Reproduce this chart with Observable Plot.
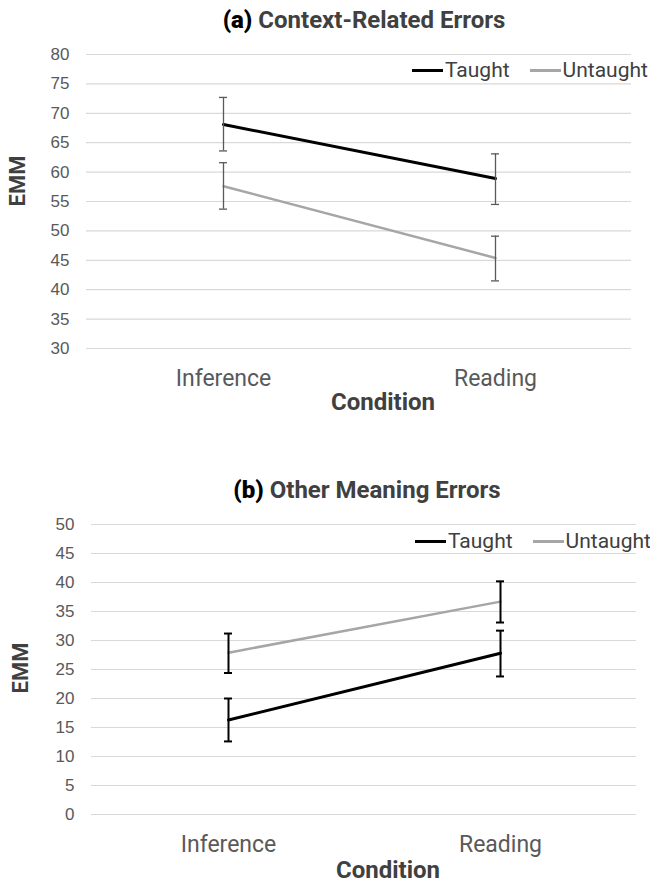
<!DOCTYPE html>
<html>
<head>
<meta charset="utf-8">
<script src="https://cdn.jsdelivr.net/npm/d3@7"></script>
<script src="https://cdn.jsdelivr.net/npm/@observablehq/plot@0.6"></script>
<style>
  html, body { margin: 0; padding: 0; background: #fff; }
  #root { position: relative; width: 650px; height: 883px; background: #fff; overflow: hidden; font-family: Roboto, "Liberation Sans", sans-serif; }
  .abs { position: absolute; white-space: nowrap; line-height: 1; }
  .ctr { transform: translate(-50%, -50%); }
  .title { font-size: 24px; font-weight: bold; color: #404040; }
  .title b { color: #000; }
  .axtitle { font-size: 24px; font-weight: bold; color: #404040; }
  .ytitle { font-size: 22px; font-weight: bold; color: #404040; transform: translate(-50%, -50%) rotate(-90deg); }
  .legend { font-size: 21px; color: #404040; display: flex; align-items: center; }
  .sw { display: inline-block; width: 31px; height: 3px; margin-right: 2px; }
  .panel { position: absolute; left: 0; }
</style>
</head>
<body>
<div id="root"></div>
<script>
// ---------- data ----------
const conditions = ["Inference", "Reading"];
const groups = ["Taught", "Untaught"];

// (a) Context-Related Errors
const aTaught      = [68.1, 58.9];
const aTaughtLo    = [63.6, 54.5];
const aTaughtHi    = [72.7, 63.1];
const aUntaught    = [57.6, 45.4];
const aUntaughtLo  = [53.7, 41.5];
const aUntaughtHi  = [61.6, 49.1];
const aTicks = [30, 35, 40, 45, 50, 55, 60, 65, 70, 75, 80];

// (b) Other Meaning Errors
const bTaught      = [16.3, 27.8];
const bTaughtLo    = [12.6, 23.8];
const bTaughtHi    = [20.0, 31.7];
const bUntaught    = [27.9, 36.7];
const bUntaughtLo  = [24.4, 33.1];
const bUntaughtHi  = [31.2, 40.2];
const bTicks = [0, 5, 10, 15, 20, 25, 30, 35, 40, 45, 50];

const seriesColors = ["#000000", "#a6a6a6"];

function rows(taught, tLo, tHi, untaught, uLo, uHi) {
  const out = [];
  conditions.forEach((c, i) => {
    out.push({cond: c, group: groups[0], emm: taught[i], lo: tLo[i], hi: tHi[i]});
  });
  conditions.forEach((c, i) => {
    out.push({cond: c, group: groups[1], emm: untaught[i], lo: uLo[i], hi: uHi[i]});
  });
  return out;
}

const root = document.getElementById("root");

function addDiv(cls, html, style) {
  const d = document.createElement("div");
  d.className = cls;
  d.innerHTML = html;
  Object.assign(d.style, style);
  root.appendChild(d);
  return d;
}

function panel(opts) {
  const data = opts.data;
  const chart = Plot.plot({
    width: 650,
    height: opts.height,
    marginTop: opts.marginTop,
    marginBottom: opts.marginBottom,
    marginLeft: opts.marginLeft,
    marginRight: opts.marginRight,
    style: {background: "transparent", fontFamily: "Roboto, sans-serif"},
    x: {type: "point", domain: conditions, padding: 0.5, label: null},
    y: {domain: opts.yDomain, label: null},
    color: {domain: groups, range: seriesColors},
    marks: [
      Plot.gridY(opts.ticks, {stroke: "#d9d9d9", strokeOpacity: 1, strokeWidth: 1.2}),
      Plot.axisY(opts.ticks, {tickSize: 0, tickPadding: 17, fontSize: 17, color: "#595959", label: null, fontFamily: "'Liberation Sans', Arial, sans-serif"}),
      Plot.axisX({tickSize: 0, tickPadding: opts.xPad, fontSize: 23, color: "#595959", label: null}),
      Plot.line(data.filter(d => d.group === groups[1]), {x: "cond", y: "emm", stroke: "group", strokeWidth: 2.5}),
      Plot.line(data.filter(d => d.group === groups[0]), {x: "cond", y: "emm", stroke: "group", strokeWidth: 3}),
      Plot.ruleX(data, {x: "cond", y1: "lo", y2: "hi", stroke: opts.errColor, strokeWidth: opts.errWidth}),
      Plot.ruleY(data, {y: "lo", x1: "cond", x2: "cond", insetLeft: -opts.cap, insetRight: -opts.cap, stroke: opts.errColor, strokeWidth: opts.errWidth}),
      Plot.ruleY(data, {y: "hi", x1: "cond", x2: "cond", insetLeft: -opts.cap, insetRight: -opts.cap, stroke: opts.errColor, strokeWidth: opts.errWidth})
    ]
  });
  const wrap = document.createElement("div");
  wrap.className = "panel";
  wrap.style.top = opts.top + "px";
  wrap.appendChild(chart);
  root.appendChild(wrap);
}

// ----- panel (a) -----
panel({
  top: 0, height: 420, marginTop: 54, marginBottom: 72, marginLeft: 86, marginRight: 19,
  yDomain: [30, 80], ticks: aTicks, xPad: 21,
  data: rows(aTaught, aTaughtLo, aTaughtHi, aUntaught, aUntaughtLo, aUntaughtHi),
  errColor: "#595959", errWidth: 1.3, cap: 4
});
addDiv("abs ctr title", "<b>(a)</b> Context-Related Errors", {left: "364px", top: "20px"});
addDiv("abs ytitle", "EMM", {left: "18px", top: "181px"});
addDiv("abs ctr axtitle", "Condition", {left: "383px", top: "402px"});
addDiv("abs legend",
  `<span class="sw" style="background:${seriesColors[0]}"></span>${groups[0]}` +
  `<span class="sw" style="background:${seriesColors[1]};margin-left:20px"></span>${groups[1]}`,
  {left: "412px", top: "60px"});

// ----- panel (b) -----
panel({
  top: 440, height: 440, marginTop: 84, marginBottom: 66, marginLeft: 91, marginRight: 14,
  yDomain: [0, 50], ticks: bTicks, xPad: 21,
  data: rows(bTaught, bTaughtLo, bTaughtHi, bUntaught, bUntaughtLo, bUntaughtHi),
  errColor: "#000000", errWidth: 2, cap: 4
});
addDiv("abs ctr title", "<b>(b)</b> Other Meaning Errors", {left: "367px", top: "490px"});
addDiv("abs ytitle", "EMM", {left: "21px", top: "668px"});
addDiv("abs ctr axtitle", "Condition", {left: "388px", top: "870px"});
addDiv("abs legend",
  `<span class="sw" style="background:${seriesColors[0]}"></span>${groups[0]}` +
  `<span class="sw" style="background:${seriesColors[1]};margin-left:20px"></span>${groups[1]}`,
  {left: "415px", top: "531px"});
</script>
</body>
</html>
